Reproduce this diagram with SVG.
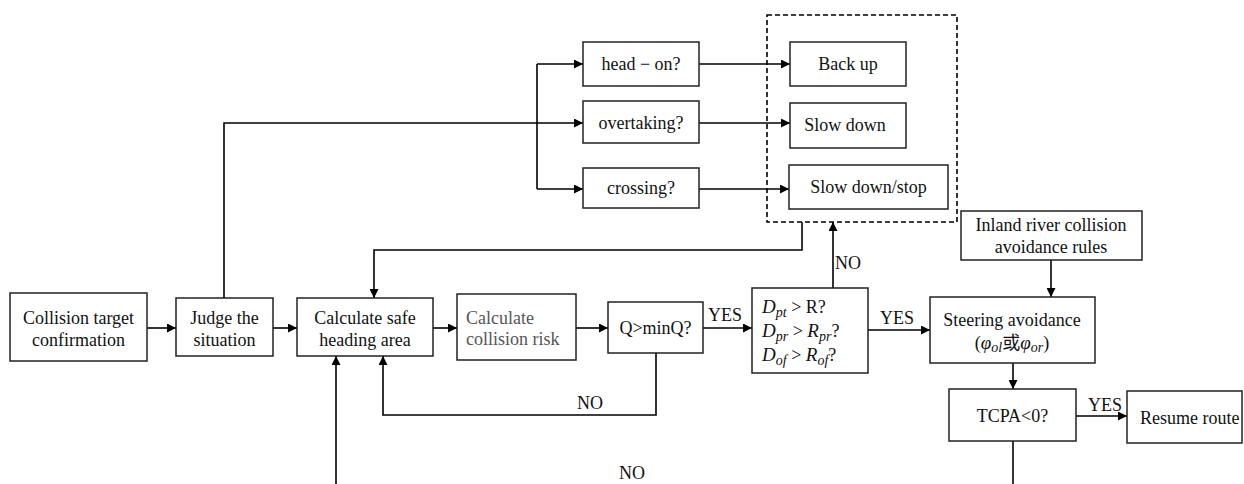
<svg xmlns="http://www.w3.org/2000/svg" width="1244" height="484" viewBox="0 0 1244 484">
<defs>
<marker id="arr" viewBox="0 0 10 10" refX="10" refY="5" markerWidth="9" markerHeight="9" markerUnits="userSpaceOnUse" orient="auto">
<path d="M0,0 L10,5 L0,10 z" fill="#000"/>
</marker>
<style>
.box{fill:#fff;stroke:#222;stroke-width:1.5}
.t{font-family:"Liberation Serif","Noto Sans CJK SC",serif;font-size:18px;fill:#111}
.c{text-anchor:middle}
.g{fill:#555}
.ln{fill:none;stroke:#000;stroke-width:1.6}
.la{fill:none;stroke:#000;stroke-width:1.6;marker-end:url(#arr)}
.dash{fill:none;stroke:#000;stroke-width:1.6;stroke-dasharray:5,3}
.m{font-style:italic}
.mb{font-style:italic;font-size:19px}
.s{font-style:italic;font-size:14px}
</style>
</defs>
<rect width="1244" height="484" fill="#fff"/>

<g id="connectors">
<line class="la" x1="147" y1="328" x2="176" y2="328"/>
<line class="la" x1="273" y1="328" x2="297" y2="328"/>
<line class="la" x1="433" y1="328" x2="457" y2="328"/>
<line class="la" x1="576" y1="328" x2="608" y2="328"/>
<line class="la" x1="703" y1="328" x2="752" y2="328"/>
<line class="la" x1="868" y1="330" x2="930" y2="330"/>
<polyline class="la" points="224,298 224,123 583,123"/>
<line class="ln" x1="537" y1="64" x2="537" y2="189"/>
<line class="la" x1="537" y1="64" x2="583" y2="64"/>
<line class="la" x1="537" y1="189" x2="583" y2="189"/>
<line class="la" x1="699" y1="64" x2="790" y2="64"/>
<line class="la" x1="699" y1="123" x2="790" y2="123"/>
<line class="la" x1="699" y1="189" x2="789" y2="189"/>
<polyline class="la" points="802,222 802,250 374,250 374,298"/>
<line class="la" x1="833" y1="288" x2="833" y2="222"/>
<polyline class="la" points="656,353 656,415 383,415 383,356"/>
<line class="la" x1="336" y1="484" x2="336" y2="356"/>
<line class="la" x1="1051" y1="260" x2="1051" y2="297"/>
<line class="la" x1="1013" y1="363" x2="1013" y2="389"/>
<line class="la" x1="1076" y1="416" x2="1127" y2="416"/>
<line class="ln" x1="1013" y1="441" x2="1013" y2="484"/>
<rect class="dash" x="767" y="15" width="190" height="207"/>
<text class="t" x="725" y="321" text-anchor="middle">YES</text>
<text class="t" x="897" y="324" text-anchor="middle">YES</text>
<text class="t" x="1105" y="411" text-anchor="middle">YES</text>
<text class="t" x="590" y="409" text-anchor="middle">NO</text>
<text class="t" x="632" y="479" text-anchor="middle">NO</text>
<text class="t" x="835" y="269">NO</text>
</g>

<g id="n_collision_target">
<rect class="box" x="10" y="293" width="137" height="68"/>
<text class="t c" x="78.5" y="324">Collision target</text>
<text class="t c" x="78.5" y="346">confirmation</text>
</g>
<g id="n_judge">
<rect class="box" x="176" y="298" width="97" height="58"/>
<text class="t c" x="224.5" y="324">Judge the</text>
<text class="t c" x="224.5" y="346">situation</text>
</g>
<g id="n_calc_safe">
<rect class="box" x="297" y="298" width="136" height="58"/>
<text class="t c" x="365" y="324">Calculate safe</text>
<text class="t c" x="365" y="346">heading area</text>
</g>
<g id="n_calc_risk">
<rect class="box" x="457" y="294" width="119" height="66"/>
<text class="t g" x="466" y="324">Calculate</text>
<text class="t g" x="466" y="345">collision risk</text>
</g>
<g id="n_q">
<rect class="box" x="608" y="302" width="95" height="51"/>
<text class="t c" x="655.5" y="334">Q&gt;minQ?</text>
</g>
<g id="n_d">
<rect class="box" x="752" y="288" width="116" height="85"/>
<text class="t" x="762" y="313"><tspan class="mb">D</tspan><tspan class="s" dy="4">pt</tspan><tspan dy="-4"> &gt; R?</tspan></text>
<text class="t" x="762" y="337"><tspan class="mb">D</tspan><tspan class="s" dy="4">pr</tspan><tspan dy="-4"> &gt; </tspan><tspan class="mb">R</tspan><tspan class="s" dy="4">pr</tspan><tspan dy="-4">?</tspan></text>
<text class="t" x="762" y="361"><tspan class="mb">D</tspan><tspan class="s" dy="4">of</tspan><tspan dy="-4"> &gt; </tspan><tspan class="mb">R</tspan><tspan class="s" dy="4">of</tspan><tspan dy="-4">?</tspan></text>
</g>
<g id="n_inland">
<rect class="box" x="961" y="211" width="181" height="49"/>
<text class="t c" x="1051" y="231">Inland river collision</text>
<text class="t c" x="1051" y="253">avoidance rules</text>
</g>
<g id="n_steering">
<rect class="box" x="930" y="297" width="165" height="66"/>
<text class="t c" x="1012" y="326">Steering avoidance</text>
<text class="t c" x="1012" y="349">(<tspan class="mb">φ</tspan><tspan class="s" dy="3">ol</tspan><tspan dy="-3">或</tspan><tspan class="mb">φ</tspan><tspan class="s" dy="3">or</tspan><tspan dy="-3">)</tspan></text>
</g>
<g id="n_tcpa">
<rect class="box" x="949" y="389" width="127" height="52"/>
<text class="t c" x="1012.5" y="422">TCPA&lt;0?</text>
</g>
<g id="n_resume">
<rect class="box" x="1127" y="391" width="115" height="52"/>
<text class="t" x="1140" y="424">Resume route</text>
</g>
<g id="n_headon">
<rect class="box" x="583" y="42" width="116" height="44"/>
<text class="t c" x="641" y="70">head − on?</text>
</g>
<g id="n_overtaking">
<rect class="box" x="583" y="101" width="116" height="42"/>
<text class="t c" x="641" y="129">overtaking?</text>
</g>
<g id="n_crossing">
<rect class="box" x="583" y="168" width="116" height="40"/>
<text class="t c" x="641" y="194">crossing?</text>
</g>
<g id="n_backup">
<rect class="box" x="790" y="42" width="116" height="44"/>
<text class="t c" x="848" y="70">Back up</text>
</g>
<g id="n_slowdown">
<rect class="box" x="790" y="103" width="116" height="45"/>
<text class="t c" x="845" y="131">Slow down</text>
</g>
<g id="n_slowstop">
<rect class="box" x="789" y="165" width="159" height="44"/>
<text class="t c" x="868.5" y="193">Slow down/stop</text>
</g>
</svg>
